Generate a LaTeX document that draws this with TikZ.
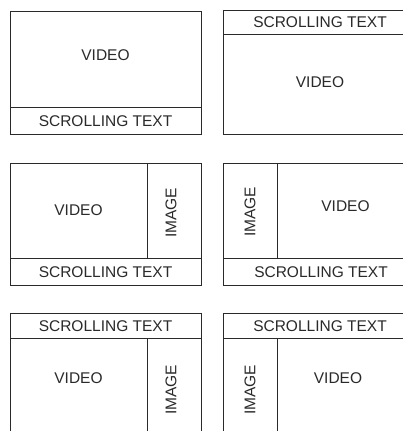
\documentclass[tikz,border=0pt]{standalone}
\usepackage{fontspec}
\setmainfont{Liberation Sans}
\definecolor{ink}{HTML}{2A2A2A}
\tikzset{
  panel/.style={draw=ink, line width=1pt},
  lbl/.style={text=ink, inner sep=0pt, font=\fontsize{15.5}{18}\selectfont},
  vlbl/.style={lbl, rotate=90},
}
\begin{document}
\begin{tikzpicture}[x=1pt,y=-1pt]
\useasboundingbox (0,0) rectangle (403,431);
\clip (0,0) rectangle (403,431);
\fill[white] (0,0) rectangle (403,431);
% Panel 1
\draw[panel] (10,11) rectangle (201,134);
\draw[panel] (10,107) -- (201,107);
\node[lbl] (v1) at (105.5,55) {VIDEO};
\node[lbl] (s1) at (105.5,121) {SCROLLING TEXT};
% Panel 2
\draw[panel] (223,10) rectangle (414,134);
\draw[panel] (223,34) -- (414,34);
\node[lbl] (s2) at (320,22) {SCROLLING TEXT};
\node[lbl] (v2) at (320,82) {VIDEO};
% Panel 3
\draw[panel] (10,163) rectangle (201,285);
\draw[panel] (10,258) -- (201,258);
\draw[panel] (147,163) -- (147,258);
\node[lbl] (v3) at (78.5,210) {VIDEO};
\node[vlbl] (i3) at (171,213) {IMAGE};
\node[lbl] (s3) at (105.5,272) {SCROLLING TEXT};
% Panel 4
\draw[panel] (223,163) rectangle (414,285);
\draw[panel] (223,258) -- (414,258);
\draw[panel] (277,163) -- (277,258);
\node[vlbl] (i4) at (250,212) {IMAGE};
\node[lbl] (v4) at (345.5,206) {VIDEO};
\node[lbl] (s4) at (321,272) {SCROLLING TEXT};
% Panel 5
\draw[panel] (10,313) rectangle (201,440);
\draw[panel] (10,338) -- (201,338);
\draw[panel] (147,338) -- (147,440);
\node[lbl] (s5) at (105.5,326) {SCROLLING TEXT};
\node[lbl] (v5) at (78.5,378) {VIDEO};
\node[vlbl] (i5) at (171,390) {IMAGE};
% Panel 6
\draw[panel] (223,313) rectangle (414,440);
\draw[panel] (223,338) -- (414,338);
\draw[panel] (277,339) -- (277,440);
\node[lbl] (s6) at (320,326) {SCROLLING TEXT};
\node[vlbl] (i6) at (250,390) {IMAGE};
\node[lbl] (v6) at (338,378) {VIDEO};
\end{tikzpicture}
\end{document}
